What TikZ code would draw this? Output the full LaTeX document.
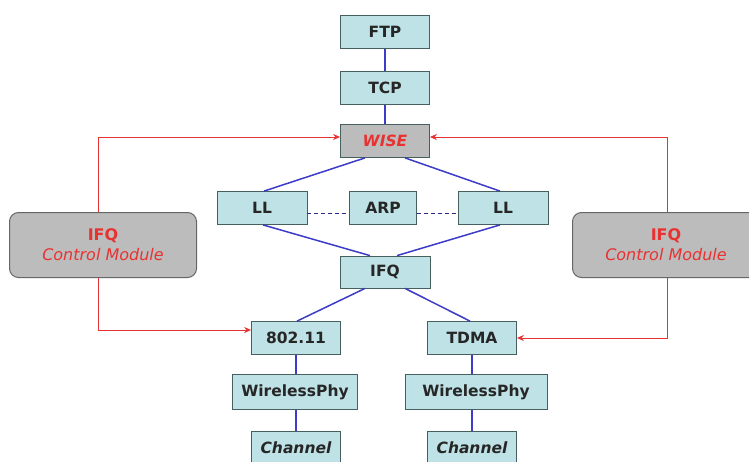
\documentclass[tikz,border=0pt]{standalone}
\usepackage{fontspec}
\setmainfont{DejaVu Sans}
\usetikzlibrary{arrows.meta}
\definecolor{boxfill}{RGB}{190,226,230}
\definecolor{boxdraw}{RGB}{70,95,95}
\definecolor{grayfill}{RGB}{188,188,188}
\definecolor{blueline}{RGB}{60,60,200}
\definecolor{redline}{RGB}{232,50,50}
\tikzset{
  layer/.style={draw=boxdraw, line width=0.8pt, fill=boxfill, minimum width=89pt, minimum height=33pt, inner sep=0pt, font=\fontsize{15.5}{17}\selectfont\bfseries, text=black!85},
  wisebox/.style={layer, fill=grayfill, text=redline, font=\fontsize{15.5}{17}\selectfont\bfseries\itshape},
  ctrl/.style={draw=black!60, line width=1pt, fill=grayfill, rounded corners=9pt, minimum width=187pt, minimum height=65pt, inner sep=0pt, text=redline, align=center, font=\fontsize{16}{20}\selectfont},
  bl/.style={draw=blueline, line width=1.5pt},
  rl/.style={draw=redline, line width=1pt, -{Stealth[length=7pt,width=6pt]}},
  dl/.style={draw=blueline!70!black, line width=0.9pt, dash pattern=on 4pt off 3pt}
}
\begin{document}
\begin{tikzpicture}[x=1pt,y=-1pt]
\useasboundingbox (0,0) rectangle (749,461);
\node[layer] (ftp) at (385,32) {FTP};
\node[layer] (tcp) at (385,88) {TCP};
\node[wisebox] (wise) at (385,141) {WISE};
\node[layer, minimum width=90pt] (ll1) at (262,208) {LL};
\node[layer, minimum width=67pt] (arp) at (383,208) {ARP};
\node[layer, minimum width=90pt] (ll2) at (503,208) {LL};
\node[layer, minimum width=90pt, minimum height=32pt] (ifq) at (385,272) {IFQ};
\node[layer] (mac1) at (296,338) {802.11};
\node[layer] (mac2) at (472,338) {TDMA};
\node[layer, minimum width=125pt, minimum height=35pt] (phy1) at (295,392) {WirelessPhy};
\node[layer, minimum width=142pt, minimum height=35pt] (phy2) at (476,392) {WirelessPhy};
\node[layer, font=\fontsize{15.5}{17}\selectfont\bfseries\itshape] (ch1) at (296,448) {Channel};
\node[layer, font=\fontsize{15.5}{17}\selectfont\bfseries\itshape] (ch2) at (472,448) {Channel};
\node[ctrl] (cm1) at (103,245) {\textbf{IFQ}\\\textit{Control Module}};
\node[ctrl] (cm2) at (666,245) {\textbf{IFQ}\\\textit{Control Module}};
% blue connectors
\draw[bl] (ftp) -- (tcp);
\draw[bl] (tcp) -- (wise);
\draw[bl] ([xshift=-20pt]wise.south) -- ([xshift=2pt]ll1.north);
\draw[bl] ([xshift=20pt]wise.south) -- ([xshift=-3pt]ll2.north);
\draw[bl] ([xshift=1pt]ll1.south) -- ([xshift=-15pt]ifq.north);
\draw[bl] ([xshift=-3pt]ll2.south) -- ([xshift=12pt]ifq.north);
\draw[bl] ([xshift=-20pt]ifq.south) -- ([xshift=1pt]mac1.north);
\draw[bl] ([xshift=20pt]ifq.south) -- ([xshift=-2pt]mac2.north);
\draw[bl] (mac1) -- (phy1.north -| mac1);
\draw[bl] (phy1.south -| mac1) -- (ch1);
\draw[bl] (mac2) -- (phy2.north -| mac2);
\draw[bl] (phy2.south -| mac2) -- (ch2);
% dashed
\draw[dl] ([yshift=-5pt]ll1.east) -- ([yshift=-5pt]arp.west);
\draw[dl] ([yshift=-5pt]arp.east) -- ([yshift=-5pt]ll2.west);
% red control
\coordinate (c1t) at (98,137);
\coordinate (c1b) at (98,330);
\coordinate (c2t) at (667,137);
\coordinate (c2b) at (667,338);
\draw[rl] (cm1.north -| c1t) -- (c1t) -- (wise.west |- c1t);
\draw[rl] (cm1.south -| c1b) -- (c1b) -- (mac1.west |- c1b);
\draw[rl] (cm2.north -| c2t) -- (c2t) -- (wise.east |- c2t);
\draw[rl] (cm2.south -| c2b) -- (c2b) -- (mac2.east |- c2b);
\end{tikzpicture}
\end{document}
